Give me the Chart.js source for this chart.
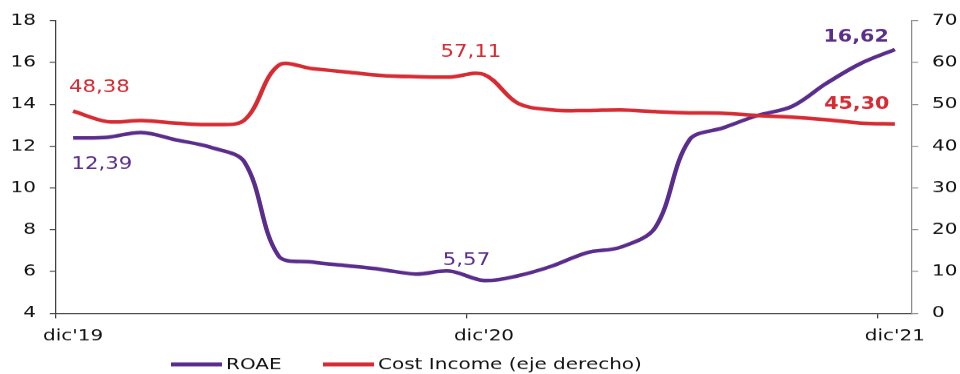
<!DOCTYPE html>
<html lang="es">
<head>
<meta charset="utf-8">
<script src="https://cdn.jsdelivr.net/npm/chart.js@4/dist/chart.umd.min.js"></script>
<style>
  html, body { margin: 0; padding: 0; background: #fff; overflow: hidden; }
  /* the chart is laid out on a narrower canvas and widened, giving the wide lettering */
  #wrap { position: absolute; left: 0; top: 0; width: 768px; height: 374px;
          transform: scaleX(1.25); transform-origin: 0 0; }
</style>
</head>
<body>
<div id="wrap"><canvas id="chart"></canvas></div>
<script>
// Monthly observations, December 2019 to December 2021
const months = [
  "dic'19", "ene'20", "feb'20", "mar'20", "abr'20", "may'20", "jun'20", "jul'20",
  "ago'20", "sep'20", "oct'20", "nov'20", "dic'20", "ene'21", "feb'21", "mar'21",
  "abr'21", "may'21", "jun'21", "jul'21", "ago'21", "sep'21", "oct'21", "nov'21", "dic'21"
];

// ROAE, % (left axis)
const roae = [
  12.39, 12.42, 12.65, 12.30, 11.95, 11.25, 6.75, 6.45, 6.28, 6.10, 5.88, 6.02,
  5.57, 5.80, 6.27, 6.90, 7.17, 8.10, 12.30, 12.88, 13.47, 13.90, 15.00, 15.95, 16.62
];

// Cost income, % (right axis)
const costIncome = [
  48.38, 45.85, 46.10, 45.50, 45.15, 46.20, 59.30, 58.50, 57.70, 56.90, 56.60, 56.50,
  57.11, 50.20, 48.65, 48.50, 48.65, 48.25, 47.95, 47.85, 47.30, 46.90, 46.30, 45.50, 45.30
];

// Points whose value is printed next to the line
const roaeLabelled = [0, 12, 24];
const costLabelled = [0, 12, 24];

const PURPLE = '#5a2d8c';
const RED = '#d62b32';
const FONT = "'DejaVu Sans', Verdana, sans-serif";

const fmt = v => v.toFixed(2).replace('.', ',');

// value labels: offsets from the point, in canvas px
const labelStyle = {
  0: { 0: [23, 27, false], 12: [-14, -19.5, false], 24: [-31, -12, true] },
  1: { 0: [21, -23.5, false], 12: [-10.5, -22, false], 24: [-30.5, -19, true] }
};

const valueLabels = {
  id: 'valueLabels',
  afterDatasetsDraw(chart) {
    const ctx = chart.ctx;
    ctx.save();
    ctx.textAlign = 'center';
    ctx.textBaseline = 'middle';
    const picks = [roaeLabelled, costLabelled];
    chart.data.datasets.forEach((ds, di) => {
      const meta = chart.getDatasetMeta(di);
      picks[di].forEach(idx => {
        const pt = meta.data[idx];
        const [dx, dy, bold] = labelStyle[di][idx];
        ctx.font = (bold ? 'bold 16.5px ' : '17px ') + FONT;
        ctx.fillStyle = ds.borderColor;
        ctx.fillText(fmt(ds.data[idx]), pt.x + dx, pt.y + dy);
      });
    });
    ctx.restore();
  }
};

// legend row under the axis
const legendRow = { y: 364, starts: [136.8, 258.4], lineLength: 40.8, gap: 3.2 };
const bottomLegend = {
  id: 'bottomLegend',
  afterDraw(chart) {
    const ctx = chart.ctx;
    ctx.save();
    chart.data.datasets.forEach((ds, i) => {
      const x = legendRow.starts[i];
      ctx.strokeStyle = ds.borderColor;
      ctx.lineWidth = 4;
      ctx.lineCap = 'butt';
      ctx.beginPath();
      ctx.moveTo(x, legendRow.y);
      ctx.lineTo(x + legendRow.lineLength, legendRow.y);
      ctx.stroke();
      ctx.font = '16px ' + FONT;
      ctx.fillStyle = '#111';
      ctx.textAlign = 'left';
      ctx.textBaseline = 'middle';
      ctx.fillText(ds.label, x + legendRow.lineLength + legendRow.gap, legendRow.y + 1);
    });
    ctx.restore();
  }
};

Chart.defaults.font.family = FONT;
Chart.defaults.font.size = 16;
Chart.defaults.color = '#111';

new Chart(document.getElementById('chart'), {
  type: 'line',
  data: {
    labels: months,
    datasets: [
      {
        label: 'ROAE',
        data: roae,
        yAxisID: 'y',
        borderColor: PURPLE,
        backgroundColor: PURPLE,
        borderWidth: 3.6,
        pointRadius: 0,
        tension: 0.35,
        order: 1
      },
      {
        label: 'Cost Income (eje derecho)',
        data: costIncome,
        yAxisID: 'y1',
        borderColor: RED,
        backgroundColor: RED,
        borderWidth: 3.6,
        pointRadius: 0,
        tension: 0.35,
        order: 0
      }
    ]
  },
  options: {
    responsive: true,
    maintainAspectRatio: false,
    devicePixelRatio: 1.25,
    animation: false,
    events: [],
    layout: { padding: { top: 20, left: 0, right: 0, bottom: 0 } },
    plugins: {
      legend: { display: false },
      tooltip: { enabled: false },
      title: { display: false }
    },
    scales: {
      x: {
        type: 'category',
        offset: true,
        afterFit: s => { s.height = 61; },
        grid: {
          offset: true,
          drawOnChartArea: false,
          tickLength: 5,
          lineWidth: 1,
          color: c => (c.index !== undefined && c.index % 12 === 0) ? '#404040' : 'rgba(0,0,0,0)'
        },
        border: { color: '#404040', width: 1 },
        ticks: {
          autoSkip: false,
          maxRotation: 0,
          minRotation: 0,
          padding: 8,
          color: '#111',
          callback: (v, i) => (i % 12 === 0 ? months[i] : '')
        }
      },
      y: {
        position: 'left',
        min: 4,
        max: 18,
        afterFit: s => { s.width = 44.8; },
        grid: { drawOnChartArea: false, tickLength: 5, color: '#404040' },
        border: { color: '#404040', width: 1 },
        ticks: { stepSize: 2, padding: 11, color: '#111' }
      },
      y1: {
        position: 'right',
        min: 0,
        max: 70,
        afterFit: s => { s.width = 38.4; },
        grid: { drawOnChartArea: false, tickLength: 5, color: '#8c8c8c' },
        border: { color: '#8c8c8c', width: 1 },
        ticks: { stepSize: 10, padding: 11, color: '#111' }
      }
    }
  },
  plugins: [valueLabels, bottomLegend]
});
</script>
</body>
</html>
